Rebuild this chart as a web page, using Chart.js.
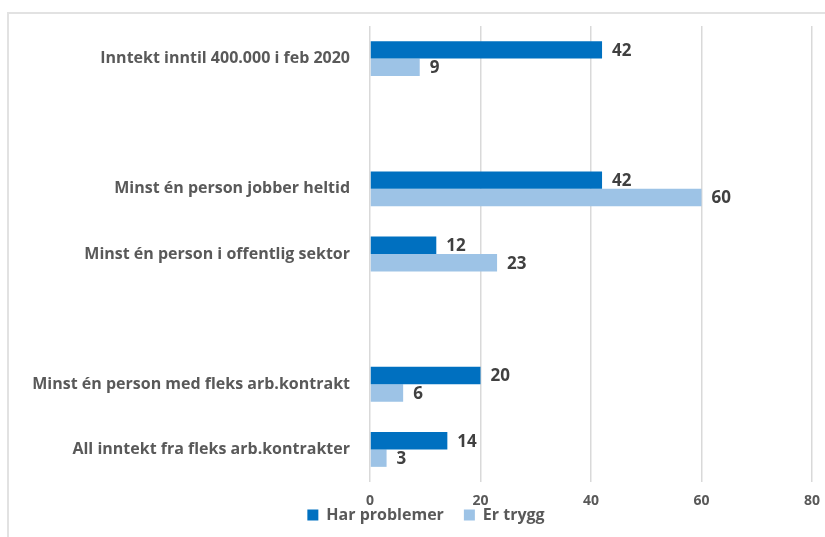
<!DOCTYPE html>
<html>
<head>
<meta charset="utf-8">
<script src="https://cdn.jsdelivr.net/npm/chart.js@4/dist/chart.umd.min.js"></script>
<style>
  html, body { margin: 0; padding: 0; background: #fff; }
  #wrap { position: relative; width: 825px; height: 537px; }
  #frame { position: absolute; left: 7px; top: 12px; right: -4px; bottom: -4px;
           border-left: 2px solid #e2e2e2; border-top: 2px solid #e2e2e2; }
  canvas { position: absolute; left: 0; top: 0; }
</style>
</head>
<body>
<div id="wrap">
  <div id="frame"></div>
  <canvas id="chart" width="825" height="537"></canvas>
</div>
<script>
// empty strings leave a blank row between the groups
const categories = [
    'Inntekt inntil 400.000 i feb 2020',
    '',
    'Minst én person jobber heltid',
    'Minst én person i offentlig sektor',
    '',
    'Minst én person med fleks arb.kontrakt',
    'All inntekt fra fleks arb.kontrakter'
];
const harProblemer = [42, null, 42, 12, null, 20, 14];
const erTrygg = [9, null, 60, 23, null, 6, 3];
const xTicks = [0, 20, 40, 60, 80];

const FONT = "'Open Sans', sans-serif";

// value labels to the right of each bar
const valueLabels = {
    id: 'valueLabels',
    afterDatasetsDraw(chart) {
        const ctx = chart.ctx;
        ctx.save();
        ctx.font = `bold 17px ${FONT}`;
        ctx.fillStyle = '#404040';
        ctx.textAlign = 'left';
        ctx.textBaseline = 'middle';
        chart.data.datasets.forEach((ds, i) => {
            chart.getDatasetMeta(i).data.forEach((bar, j) => {
                if (ds.data[j] == null) return;
                ctx.fillText(ds.data[j], bar.x + 10, bar.y + 1);
            });
        });
        ctx.restore();
    }
};

// tick labels are clipped to their axis box; widen the boxes so long labels show
const unclipLabels = {
    id: 'unclipLabels',
    afterLayout(chart) {
        chart.scales.y.left = 0;
        chart.scales.x.bottom = chart.height;
    }
};

new Chart(document.getElementById('chart'), {
    type: 'bar',
    data: {
        labels: categories,
        datasets: [
            { label: 'Har problemer', data: harProblemer, backgroundColor: '#0070C0' },
            { label: 'Er trygg', data: erTrygg, backgroundColor: '#9DC3E6' }
        ]
    },
    options: {
        indexAxis: 'y',
        responsive: false,
        animation: false,
        categoryPercentage: 0.535,
        barPercentage: 1,
        layout: { padding: { left: 40, right: 13, top: 26, bottom: 4 } },
        scales: {
            x: {
                min: 0,
                max: 80,
                afterBuildTicks: (axis) => { axis.ticks = xTicks.map(v => ({ value: v })); },
                grid: { color: '#d9d9d9', lineWidth: 1.5, drawTicks: false },
                border: { display: false },
                ticks: { color: '#595959', font: { family: FONT, size: 14, weight: 'bold' }, padding: 11 },
                afterFit: (axis) => {
                    axis.height = 5;
                    axis.paddingLeft = 0;
                    axis.paddingRight = 0;
                }
            },
            y: {
                grid: { display: false, drawTicks: false },
                border: { display: false },
                ticks: { color: '#595959', font: { family: FONT, size: 16, weight: 'bold' }, padding: 20, autoSkip: false },
                afterFit: (axis) => {
                    axis.width = 330;
                    axis.paddingTop = 0;
                    axis.paddingBottom = 0;
                }
            }
        },
        plugins: {
            legend: {
                position: 'bottom',
                labels: {
                    color: '#595959',
                    font: { family: FONT, size: 16, weight: 'bold' },
                    boxWidth: 11,
                    boxHeight: 11,
                    padding: 20
                }
            },
            tooltip: { enabled: false }
        }
    },
    plugins: [valueLabels, unclipLabels]
});
</script>
</body>
</html>
